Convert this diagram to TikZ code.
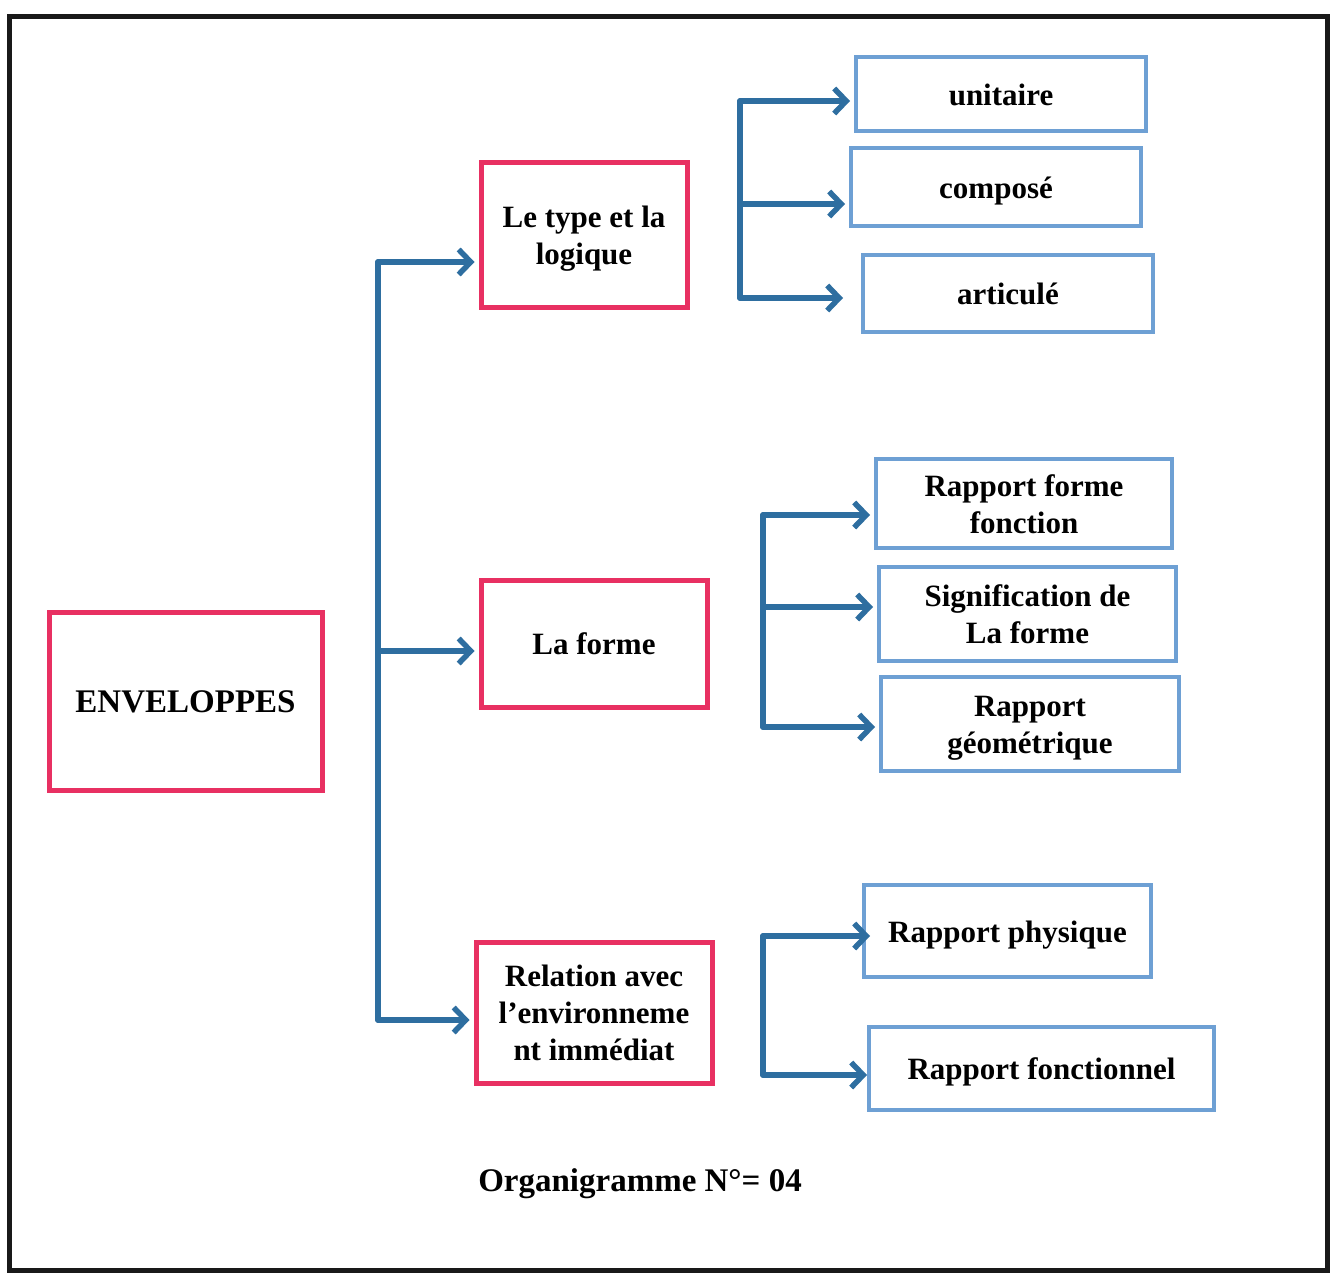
\documentclass[tikz,border=0pt]{standalone}
\usepackage{fontspec}
\setmainfont{Liberation Serif}
\usetikzlibrary{arrows.meta}
\definecolor{pinkred}{RGB}{232,48,98}
\definecolor{lightblue}{RGB}{110,160,212}
\definecolor{arrowblue}{RGB}{46,110,160}
\newcommand{\lowtext}[1]{\raisebox{-4pt}[\height][\depth]{\begin{tabular}{@{}c@{}}#1\end{tabular}}}
\begin{document}
\begin{tikzpicture}[x=1pt,y=-1pt,
  redbox/.style={draw=pinkred,line width=5pt,inner sep=0pt,
    font=\bfseries\fontsize{31}{37}\selectfont},
  bluebox/.style={draw=lightblue,line width=4pt,inner sep=0pt,
    font=\bfseries\fontsize{31}{37}\selectfont},
  conn/.style={draw=arrowblue,line width=5.5pt,line cap=round,line join=round},
  arr/.style={conn,-{Straight Barb[length=12pt,width=25pt]},shorten >=4pt}
]
\useasboundingbox (0,0) rectangle (1332,1276);
\fill[white] (0,0) rectangle (1332,1276);
\draw[line width=5pt,black!90] (9,17) rectangle (1327,1270);

% level 0
\node[redbox,minimum width=273pt,minimum height=178pt,font=\bfseries\fontsize{33}{38}\selectfont] (env) at (185.5,701) {\lowtext{ENVELOPPES}};

% level 1
\node[redbox,minimum width=206pt,minimum height=144pt] (type) at (584,235) {\lowtext{Le type et la\\logique}};
\node[redbox,minimum width=226pt,minimum height=127pt] (forme) at (594,643.5) {\lowtext{La forme}};
\node[redbox,minimum width=236pt,minimum height=141pt] (rel) at (594,1012.5) {\lowtext{Relation avec\\l’environneme\\nt immédiat}};

% level 2
\node[bluebox,minimum width=290pt,minimum height=74pt] (unit) at (1001,94) {\lowtext{unitaire}};
\node[bluebox,minimum width=290pt,minimum height=78pt] (comp) at (996,187) {\lowtext{composé}};
\node[bluebox,minimum width=290pt,minimum height=77pt] (art) at (1008,293.5) {\lowtext{articulé}};
\node[bluebox,minimum width=296pt,minimum height=89pt] (rff) at (1024,503.5) {\lowtext{Rapport forme\\fonction}};
\node[bluebox,minimum width=297pt,minimum height=94pt] (sig) at (1027.5,614) {\lowtext{Signification de\\La forme}};
\node[bluebox,minimum width=298pt,minimum height=94pt] (geo) at (1030,724) {\lowtext{Rapport\\géométrique}};
\node[bluebox,minimum width=287pt,minimum height=92pt] (phy) at (1007.5,931) {\lowtext{Rapport physique}};
\node[bluebox,minimum width=345pt,minimum height=83pt] (fonc) at (1041.5,1068.5) {\lowtext{Rapport fonctionnel}};

% caption
\node[font=\bfseries\fontsize{33}{38}\selectfont] (cap) at (640,1184) {Organigramme N°= 04};

% main trunk
\coordinate (ta) at (378,262);
\coordinate (tb) at (378,651);
\coordinate (tc) at (378,1020);
\draw[conn] (ta) -- (tc);
\draw[arr] (ta) -- (ta -| type.west);
\draw[arr] (tb) -- (tb -| forme.west);
\draw[arr] (tc) -- (tc -| rel.west);

% group 1
\coordinate (a1) at (740,101);
\coordinate (a2) at (740,204);
\coordinate (a3) at (740,298);
\draw[conn] (a1) -- (a3);
\draw[arr] (a1) -- (a1 -| unit.west);
\draw[arr] (a2) -- (a2 -| comp.west);
\draw[arr,shorten >=18pt] (a3) -- (a3 -| art.west);

% group 2
\coordinate (b1) at (763,515);
\coordinate (b2) at (763,607);
\coordinate (b3) at (763,727);
\draw[conn] (b1) -- (b3);
\draw[arr] (b1) -- (b1 -| rff.west);
\draw[arr] (b2) -- (b2 -| sig.west);
\draw[arr] (b3) -- (b3 -| geo.west);

% group 3
\coordinate (c1) at (763,936);
\coordinate (c2) at (763,1075);
\draw[conn] (c1) -- (c2);
\draw[arr,shorten >=-8pt] (c1) -- (c1 -| phy.west);
\draw[arr,shorten >=0pt] (c2) -- (c2 -| fonc.west);
\end{tikzpicture}
\end{document}
